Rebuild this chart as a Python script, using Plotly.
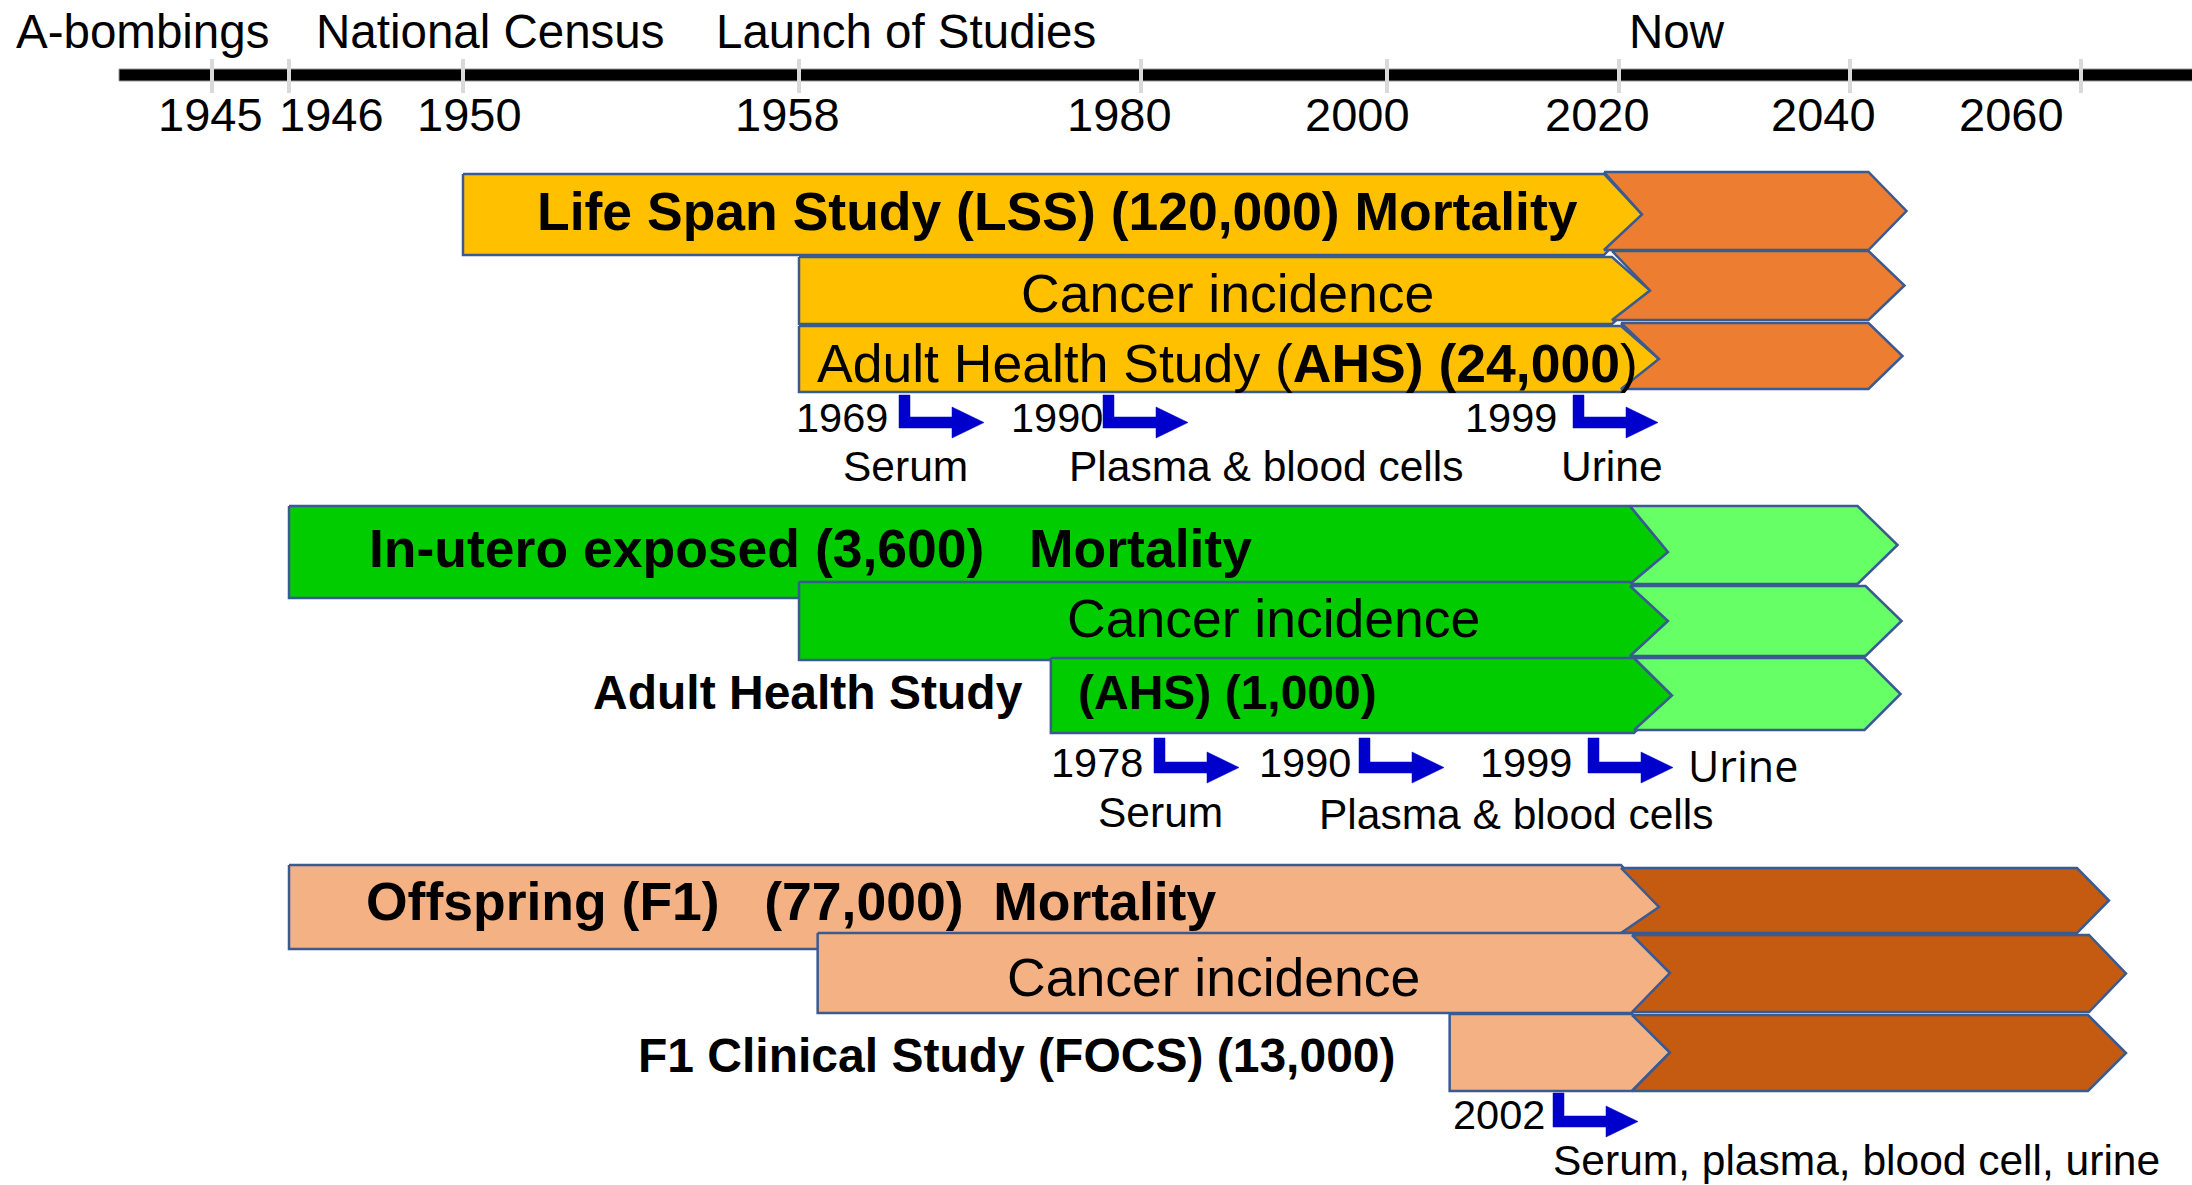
import numpy as np
import plotly.graph_objects as go

# ------------------------------------------------------------------ data
timeline_years = [1945, 1946, 1950, 1958, 1980, 2000, 2020, 2040, 2060]
event_labels = ["A-bombings", "National Census", "Launch of Studies", "Now"]
now_year = 2020

NB = "\u00a0"
lss_labels = ["<b>Life Span Study (LSS) (120,000) Mortality</b>",
              "Cancer incidence",
              "Adult Health Study (<b>AHS) (24,000</b>)"]
lss_start = [1950, 1958, 1958]
lss_future_end = 2041.6

utero_labels = ["<b>In-utero exposed (3,600)" + NB * 3 + "Mortality</b>",
                "Cancer incidence",
                "<b>(AHS) (1,000)</b>"]
utero_side_label = "<b>Adult Health Study</b>"
utero_start = [1946, 1958, 1974.2]
utero_future_end = 2041

f1_labels = ["<b>Offspring (F1)" + NB * 3 + "(77,000)" + NB * 2 + "Mortality</b>",
             "Cancer incidence",
             ""]
f1_side_label = "<b>F1 Clinical Study (FOCS) (13,000)</b>"
f1_start = [1946, 1959.2, 2005.4]
f1_future_end = 2060

lss_sample_years = ["1969", "1990", "1999"]
lss_sample_types = ["Serum", "Plasma & blood cells", "Urine"]
utero_sample_years = ["1978", "1990", "1999"]
utero_sample_types = ["Serum", "Plasma & blood cells", "Urine"]
f1_sample_years = ["2002"]
f1_sample_types = ["Serum, plasma, blood cell, urine"]

# ------------------------------------------------------------------ layout / style
W, H = 2192, 1185
TICK_PX = [212, 289, 463, 799, 1141, 1387, 1619, 1850, 2081]
LABEL_PX = [210, 331, 469, 787, 1119, 1357, 1597, 1823, 2011]
EVENT_LEFT = [14, 314, 714, 1627]


def X(year):
    return float(np.interp(year, timeline_years, TICK_PX))


FONT = "Arial, Liberation Sans, sans-serif"
BORDER = "#3A5A92"
ARROW = "#0000CC"
DEPTH = 38
BIG = 53.5
MID = 48

groups = [
    dict(labels=lss_labels, start=lss_start, fend=lss_future_end,
         rows=[(174, 255), (257, 324), (326, 392)],
         fut_rows=[(172, 250), (251, 320), (323, 389)],
         now_dx=[-15, -7, 2], fend_dx=[0, 0, 0], fdepth=[38, 36, 34],
         label_x=[1057, 1227, 1227], label_y=[211, 293, 363],
         prim="#FFC000", fut="#ED7D31"),
    dict(labels=utero_labels, start=utero_start, fend=utero_future_end,
         rows=[(506, 598), (582, 660), (658, 733)],
         fut_rows=[(506, 584), (586, 656), (658, 730)],
         now_dx=[11, 11, 15], fend_dx=[-4, 4, 3], fdepth=[40, 36, 36],
         label_x=[810, 1273, None], label_y=[548, 618, None],
         prim="#00CC00", fut="#66FF66"),
    dict(labels=f1_labels, start=f1_start, fend=f1_future_end,
         rows=[(865, 949), (933, 1013), (1014, 1091)],
         fut_rows=[(868, 933), (935, 1012), (1015, 1091)],
         now_dx=[2, 13, 13], fend_dx=[-4, 8, 7], fdepth=[32, 37, 38],
         label_x=[791, 1213, None], label_y=[901, 977, None],
         prim="#F4B183", fut="#C55A11"),
]

fig = go.Figure()


def poly(xs, ys, fill, lw=2.5, lc=BORDER):
    fig.add_trace(go.Scatter(x=xs + [xs[0]], y=ys + [ys[0]], mode="lines",
                             fill="toself", fillcolor=fill,
                             line=dict(color=lc, width=lw),
                             hoverinfo="skip", showlegend=False))


# timeline bar
poly([119, W + 5, W + 5, 119], [69, 69, 81, 81], "black", lw=1, lc="#999999")
for tp in timeline_years:
    x = X(tp)
    fig.add_trace(go.Scatter(x=[x, x], y=[59, 93], mode="lines",
                             line=dict(color="#D9D9D9", width=4),
                             hoverinfo="skip", showlegend=False))

# study bars
for g in groups:
    for i, (top, bot) in enumerate(g["rows"]):
        xs = X(g["start"][i])
        xe = X(now_year) + g["now_dx"][i]
        mid = (top + bot) / 2
        poly([xs, xe, xe + DEPTH, xe, xs], [top, top, mid, bot, bot], g["prim"])
        ft, fb = g["fut_rows"][i]
        fm = (ft + fb) / 2
        xf = X(g["fend"]) + g["fend_dx"][i]
        poly([xe, xf, xf + g["fdepth"][i], xf, xe, xe + DEPTH],
             [ft, ft, fm, fb, fb, mid], g["fut"])

annotations = []


def txt(x, y, text, size, xanchor="center", family=FONT, color="black"):
    annotations.append(dict(x=x, y=y, xref="x", yref="y", text=text,
                            showarrow=False, xanchor=xanchor, yanchor="middle",
                            font=dict(family=family, size=size, color=color)))


# timeline text
for lbl, lx in zip(event_labels, EVENT_LEFT):
    txt(lx, 31, lbl, 47.5, "left")
for yr, lx in zip(timeline_years, LABEL_PX):
    txt(lx, 114, str(yr), 47)

# bar labels
for g in groups:
    for i in range(3):
        if g["labels"][i] and g["label_x"][i] is not None:
            txt(g["label_x"][i], g["label_y"][i], g["labels"][i], BIG)
txt(1025, 692, utero_side_label, MID, "right")
txt(1076, 692, utero_labels[2], MID, "left")
txt(1017, 1055, f1_side_label, MID, "center")


# sample arrows
def l_arrow(xv, y0, h=33, w=11, arm=53, head=32, hh=15.5):
    yc = y0 + h - w / 2
    xh = xv + arm
    xs = [xv, xv + w, xv + w, xh, xh, xh + head, xh, xh, xv]
    ys = [y0, y0, y0 + h - w, y0 + h - w, yc - hh, yc, yc + hh, y0 + h, y0 + h]
    poly(xs, ys, ARROW, lw=0.5, lc=ARROW)


for xv in [899, 1103, 1573]:
    l_arrow(xv, 395)
for xv in [1154, 1359, 1588]:
    l_arrow(xv, 738, h=35)
l_arrow(1553, 1093, h=34)

SMALL = 42.5
for yr, lx in zip(lss_sample_years, [794, 1009, 1463]):
    txt(lx, 417, yr, 41.5, "left")
for st, cx in zip(lss_sample_types, [905, 1266, 1612]):
    txt(cx, 466, st, SMALL)

for yr, lx in zip(utero_sample_years, [1049, 1257, 1478]):
    txt(lx, 762, yr, 41.5, "left")
txt(1160, 812, utero_sample_types[0], SMALL)
txt(1516, 814, utero_sample_types[1], SMALL)
txt(1686, 765, utero_sample_types[2], 43, "left", family="Open Sans, sans-serif")

txt(1451, 1114, f1_sample_years[0], 41.5, "left")
txt(1551, 1160, f1_sample_types[0], SMALL, "left")

fig.update_layout(
    width=W, height=H,
    margin=dict(l=0, r=0, t=0, b=0),
    paper_bgcolor="white", plot_bgcolor="white",
    xaxis=dict(range=[0, W], visible=False, fixedrange=True),
    yaxis=dict(range=[H, 0], visible=False, fixedrange=True),
    annotations=annotations,
    showlegend=False,
)

fig.write_html(
    "out.html",
    config={"displayModeBar": False},
    post_script="document.body.style.margin='0';document.body.style.overflow='hidden';",
)
